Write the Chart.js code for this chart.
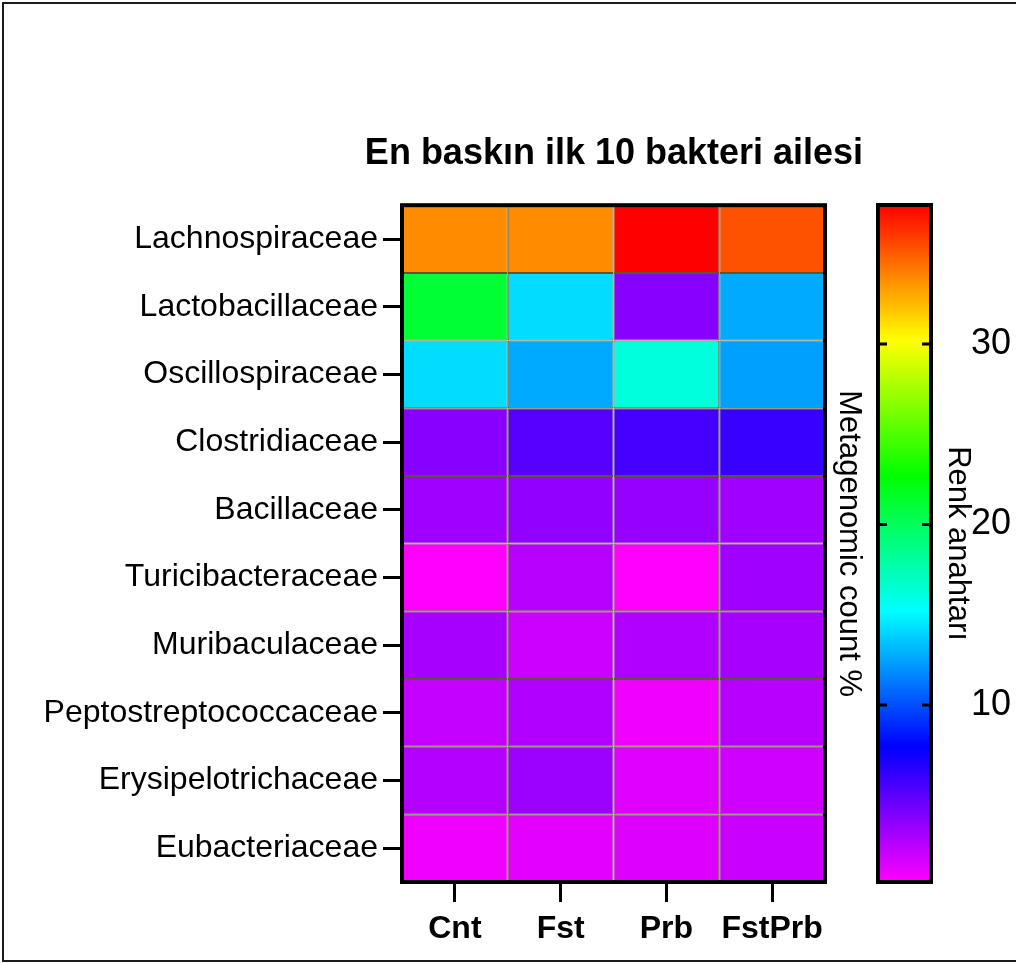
<!DOCTYPE html>
<html>
<head>
<meta charset="utf-8">
<script src="https://cdn.jsdelivr.net/npm/chart.js@4.4.1/dist/chart.umd.min.js"></script>
<style>
body {
  margin: 0;
  overflow: hidden;
  background: #ffffff;
}
#frame {
  position: absolute;
  left: 2px;
  top: 2px;
  width: 1100px;
  height: 956px;
  border: 2px solid #1c1c1c;
}
#heat {
  position: absolute;
  left: 0;
  top: 0;
}
#cbar {
  position: absolute;
  left: 860px;
  top: 0;
}
</style>
</head>
<body>

<div id="frame"></div>
<!-- heatmap canvas is wider than the window so the title centres over the cells -->
<canvas id="heat" width="1228" height="963"></canvas>
<canvas id="cbar" width="156" height="963"></canvas>

<script>
// groups (columns) and bacteria families (rows)
var groups = ["Cnt", "Fst", "Prb", "FstPrb"];
var families = ["Lachnospiraceae", "Lactobacillaceae", "Oscillospiraceae", "Clostridiaceae",
                "Bacillaceae", "Turicibacteraceae", "Muribaculaceae", "Peptostreptococcaceae",
                "Erysipelotrichaceae", "Eubacteriaceae"];

var cnt    = [33.6, 21.2, 14.2, 3.7, 3.0, 0.2, 2.8, 1.95, 2.4, 0.64];
var fst    = [33.6, 14.2, 12.7, 5.2, 3.4, 2.3, 1.7, 2.5, 3.1, 1.0];
var prb    = [37.7, 3.7, 16.2, 5.7, 3.3, 0.2, 2.5, 0.64, 1.1, 1.2];
var fstPrb = [35.3, 12.7, 12.4, 6.05, 3.0, 3.0, 2.8, 2.3, 1.6, 1.8];

// colour key ticks
var keyTicks = [10, 20, 30];

var series = [cnt, fst, prb, fstPrb];
var allValues = [].concat(cnt, fst, prb, fstPrb);
var vmin = Math.min.apply(null, allValues);
var vmax = Math.max.apply(null, allValues);

Chart.defaults.font.family = '"Liberation Sans", Arial, sans-serif';
Chart.defaults.color = "#000";

// rainbow: magenta (low) -> blue -> cyan -> green -> yellow -> red (high)
function heatColor(v) {
  var t = (v - vmin) / (vmax - vmin);
  var hue = 300 * (1 - t);
  return "hsl(" + hue.toFixed(1) + ",100%,50%)";
}

// thick black box round the chart area (+ short inner ticks for the key)
var areaFrame = {
  id: "areaFrame",
  afterDatasetsDraw: function(chart, args, opts) {
    var a = chart.chartArea, ctx = chart.ctx;
    ctx.save();
    ctx.strokeStyle = "#000";
    if (opts.innerTicks) {
      var ys = chart.scales.y;
      ctx.lineWidth = 3;
      ys.ticks.forEach(function(t) {
        var p = ys.getPixelForValue(t.value);
        ctx.beginPath();
        ctx.moveTo(a.left, p); ctx.lineTo(a.left + 9, p);
        ctx.moveTo(a.right - 9, p); ctx.lineTo(a.right, p);
        ctx.stroke();
      });
    }
    ctx.lineWidth = 4;
    ctx.strokeRect(a.left, a.top, a.right - a.left, a.bottom - a.top);
    ctx.restore();
  }
};

// one dataset per family row, a floating bar per group
var rowSets = families.map(function(name, r) {
  return {
    label: name,
    data: groups.map(function() { return [r, r + 1]; }),
    backgroundColor: series.map(function(s) { return heatColor(s[r]); }),
    borderColor: "#5f5630",
    borderWidth: 1,
    borderSkipped: false,
    inflateAmount: 0,
    barPercentage: 1,
    categoryPercentage: 1,
    grouped: false
  };
});

new Chart(document.getElementById("heat"), {
  type: "bar",
  data: { labels: groups, datasets: rowSets },
  options: {
    responsive: false,
    animation: false,
    devicePixelRatio: 1,
    layout: { padding: { top: 0, left: 0, right: 0, bottom: 21 } },
    plugins: {
      legend: { display: false },
      tooltip: { enabled: false },
      areaFrame: { innerTicks: false },
      title: {
        display: true,
        text: "En baskın ilk 10 bakteri ailesi",
        color: "#000",
        font: { size: 36, weight: "bold" },
        padding: { top: 132, bottom: 30 }
      }
    },
    scales: {
      x: {
        type: "category",
        offset: true,
        grid: { offset: false, drawOnChartArea: false, tickLength: 20, tickWidth: 3, tickColor: "#000" },
        border: { display: false },
        ticks: { color: "#000", font: { size: 32, weight: "bold" }, padding: 8, maxRotation: 0 },
        afterFit: function(s) { s.height = 60; }
      },
      y: {
        type: "linear",
        min: 0,
        max: 10,
        reverse: true,
        afterBuildTicks: function(s) {
          s.ticks = families.map(function(f, i) { return { value: i + 0.5 }; });
        },
        ticks: {
          autoSkip: false,
          color: "#000",
          font: { size: 32 },
          padding: 5,
          callback: function(v, i) { return families[i]; }
        },
        grid: { drawOnChartArea: false, tickLength: 19, tickWidth: 3, tickColor: "#000" },
        border: { display: false },
        afterFit: function(s) { s.width = 402; }
      },
      yR: {
        type: "linear",
        position: "right",
        grid: { display: false, drawTicks: false },
        border: { display: false },
        ticks: { display: false },
        // wide box: title sits next to the cells, the rest lies under the key / off screen
        title: { display: true, text: "Metagenomic count %", color: "#000", font: { size: 31 }, padding: { top: 361, bottom: 0 } },
        afterFit: function(s) { s.width = 403; }
      }
    }
  },
  plugins: [areaFrame]
});

// colour key
function keyGradient(chart) {
  var a = chart.chartArea;
  if (!a) return null;
  var g = chart.ctx.createLinearGradient(0, a.bottom, 0, a.top);
  for (var i = 0; i <= 10; i++) {
    g.addColorStop(i / 10, "hsl(" + (300 - 30 * i) + ",100%,50%)");
  }
  return g;
}

new Chart(document.getElementById("cbar"), {
  type: "bar",
  data: {
    labels: ["key"],
    datasets: [{
      data: [[vmin, vmax]],
      yAxisID: "y",
      backgroundColor: function(c) { return keyGradient(c.chart); },
      borderWidth: 0,
      barPercentage: 1,
      categoryPercentage: 1
    }]
  },
  options: {
    responsive: false,
    animation: false,
    devicePixelRatio: 1,
    layout: { padding: { top: 205, bottom: 81, left: 18, right: 0 } },
    plugins: {
      legend: { display: false },
      tooltip: { enabled: false },
      areaFrame: { innerTicks: true }
    },
    scales: {
      x: { display: false },
      yT: {
        type: "linear",
        position: "right",
        weight: 0,
        grid: { display: false, drawTicks: false },
        border: { display: false },
        ticks: { display: false },
        title: { display: true, text: "Renk anahtarı", color: "#000", font: { size: 31 }, padding: { top: -5, bottom: 0 } },
        afterFit: function(s) { s.width = 40; }
      },
      y: {
        type: "linear",
        position: "right",
        weight: 1,
        min: vmin,
        max: vmax,
        afterBuildTicks: function(s) {
          s.ticks = keyTicks.map(function(v) { return { value: v }; });
        },
        grid: { display: false, drawTicks: false },
        border: { display: false },
        ticks: { color: "#000", font: { size: 36 }, padding: 0 },
        afterFit: function(s) { s.width = 45; }
      }
    }
  },
  plugins: [areaFrame]
});
</script>

</body>
</html>
